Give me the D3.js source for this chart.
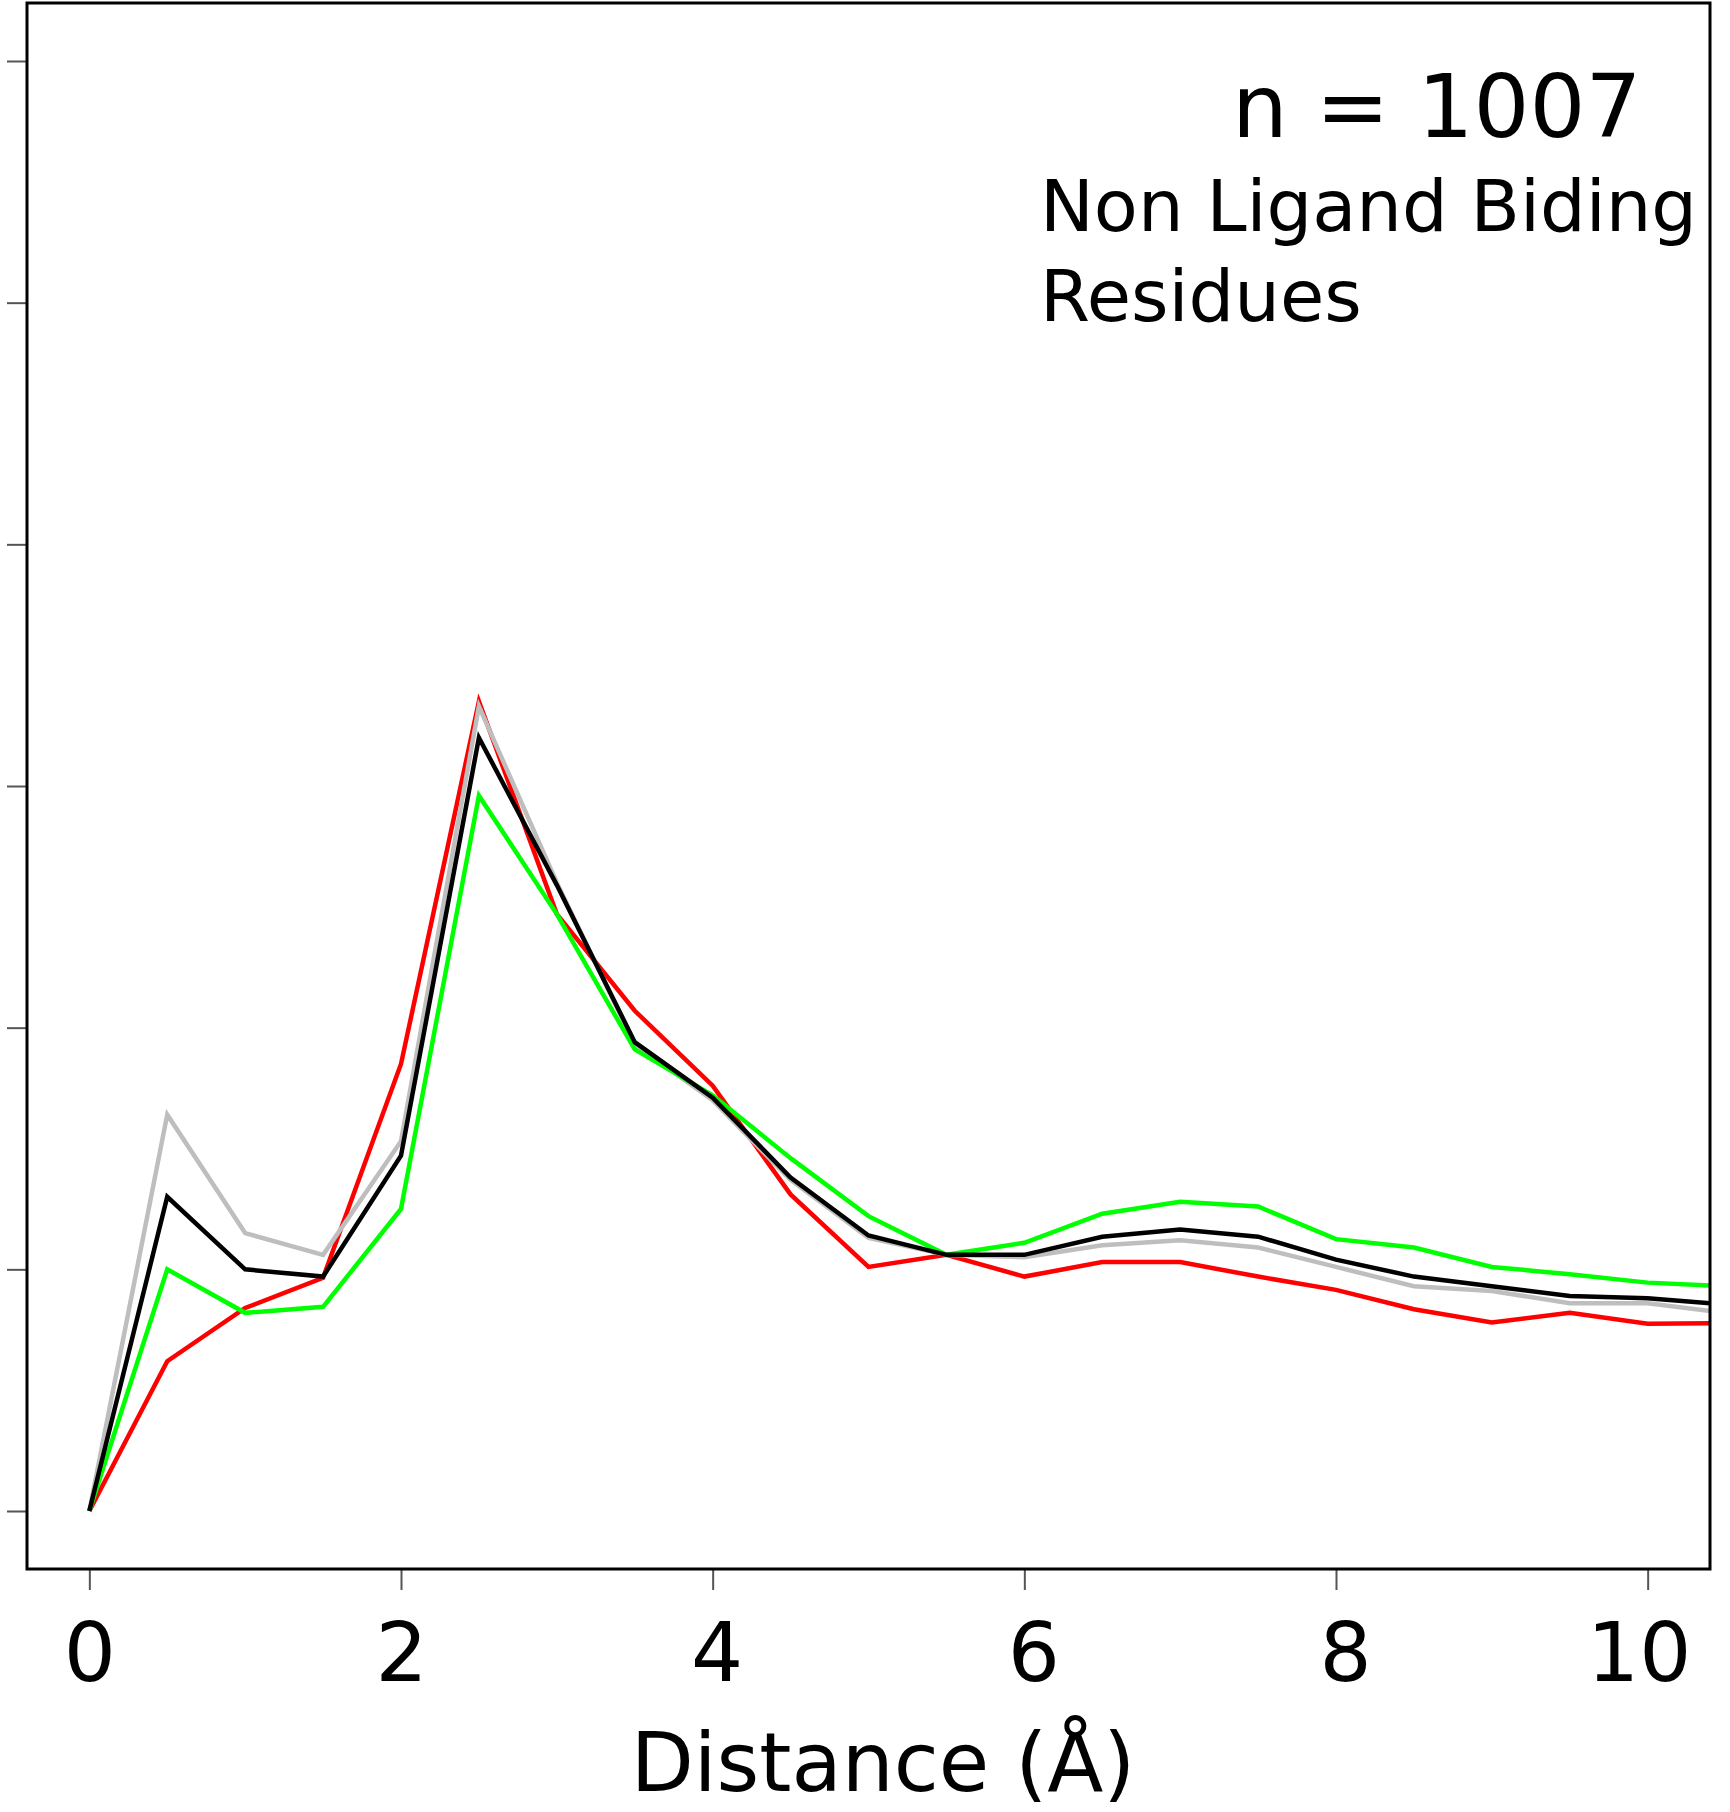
<!DOCTYPE html>
<html>
<head>
<meta charset="utf-8">
<script src="https://cdn.jsdelivr.net/npm/d3@7/dist/d3.min.js"></script>
<style>
  body { margin: 0; background: #fff; }
  svg { display: block; font-family: "DejaVu Sans", sans-serif; }
</style>
</head>
<body>
<svg id="chart"></svg>
<script>
// Data
const distance = [0, 0.5, 1, 1.5, 2, 2.5, 3, 3.5, 4, 4.5, 5, 5.5, 6, 6.5, 7, 7.5, 8, 8.5, 9, 9.5, 10, 10.5];
const grayValues = [0, 1.64, 1.15, 1.06, 1.53, 3.33, 2.6, 1.93, 1.7, 1.37, 1.13, 1.06, 1.05, 1.1, 1.12, 1.09, 1.01, 0.93, 0.91, 0.86, 0.86, 0.82];
const redValues = [0, 0.62, 0.84, 0.965, 1.85, 3.35, 2.47, 2.07, 1.76, 1.31, 1.01, 1.06, 0.97, 1.03, 1.03, 0.97, 0.915, 0.835, 0.78, 0.82, 0.775, 0.778];
const greenValues = [0, 1.0, 0.82, 0.845, 1.25, 2.96, 2.47, 1.91, 1.72, 1.46, 1.22, 1.06, 1.11, 1.23, 1.28, 1.26, 1.125, 1.09, 1.01, 0.98, 0.945, 0.93];
const blackValues = [0, 1.3, 1.0, 0.97, 1.47, 3.2, 2.59, 1.94, 1.71, 1.38, 1.14, 1.06, 1.06, 1.135, 1.165, 1.135, 1.04, 0.97, 0.93, 0.89, 0.88, 0.855];
const xTicks = [0, 2, 4, 6, 8, 10];
const yTicks = [0, 1, 2, 3, 4, 5, 6];
const nLabel = "n = 1007";
const titleLines = ["Non Ligand Biding", "Residues"];
const xTitle = "Distance (Å)";

// Dimensions
const width = 1730;
const height = 1812;
const plot = { left: 27, right: 1710, top: 3, bottom: 1569 };

const svg = d3.select("#chart").attr("width", width).attr("height", height);

// Scales (R-style 4% padding around 0-10 and 0-6)
const xScale = d3.scaleLinear().domain([-0.4, 10.4]).range([plot.left, plot.right]);
const yScale = d3.scaleLinear().domain([-0.24, 6.24]).range([plot.bottom, plot.top]);

// Clip
svg.append("clipPath").attr("id", "plot-clip")
  .append("rect")
  .attr("x", plot.left).attr("y", plot.top)
  .attr("width", plot.right - plot.left).attr("height", plot.bottom - plot.top);

// Axes
const xAxis = d3.axisBottom(xScale).tickValues(xTicks).tickSize(21).tickFormat(d3.format("d"));
const yAxis = d3.axisLeft(yScale).tickValues(yTicks).tickSize(20).tickFormat("");

const gx = svg.append("g")
  .attr("transform", `translate(0, ${plot.bottom})`)
  .call(xAxis);
gx.select(".domain").remove();
gx.selectAll(".tick line").attr("stroke", "#555").attr("stroke-width", 2);
// small label nudges seen in the original
const labelShift = [0, 0, 4, 9, 9, -9];
gx.selectAll(".tick text")
  .attr("y", 112)
  .attr("dy", null)
  .attr("dx", (d, i) => labelShift[i])
  .attr("fill", "#000")
  .style("font-family", "DejaVu Sans")
  .style("font-size", "82px");

const gy = svg.append("g")
  .attr("transform", `translate(${plot.left}, 0)`)
  .call(yAxis);
gy.select(".domain").remove();
gy.selectAll(".tick line").attr("stroke", "#555").attr("stroke-width", 2);

// Lines
const series = [
  { values: redValues, color: "#ff0000" },
  { values: grayValues, color: "#bebebe" },
  { values: greenValues, color: "#00ff00" },
  { values: blackValues, color: "#000000" }
];

const line = d3.line()
  .x((d, i) => xScale(distance[i]))
  .y((d) => yScale(d));

svg.append("g")
  .attr("clip-path", "url(#plot-clip)")
  .selectAll("path")
  .data(series)
  .enter()
  .append("path")
  .attr("d", (d) => line(d.values))
  .attr("fill", "none")
  .attr("stroke", (d) => d.color)
  .attr("stroke-width", 4.5)
  .attr("stroke-linejoin", "miter");

// Box
svg.append("rect")
  .attr("x", plot.left).attr("y", plot.top)
  .attr("width", plot.right - plot.left).attr("height", plot.bottom - plot.top)
  .attr("fill", "none")
  .attr("stroke", "#000")
  .attr("stroke-width", 3);

// Annotations
svg.append("text")
  .attr("x", 1232).attr("y", 137)
  .style("font-size", "88px")
  .text(nLabel);

svg.selectAll(".title-line")
  .data(titleLines)
  .enter()
  .append("text")
  .attr("class", "title-line")
  .attr("x", 1040)
  .attr("y", (d, i) => 231 + i * 90)
  .style("font-size", "72px")
  .text((d) => d);

// Axis title
svg.append("text")
  .attr("x", 883).attr("y", 1791)
  .attr("text-anchor", "middle")
  .style("font-size", "82px")
  .text(xTitle);
</script>
</body>
</html>
